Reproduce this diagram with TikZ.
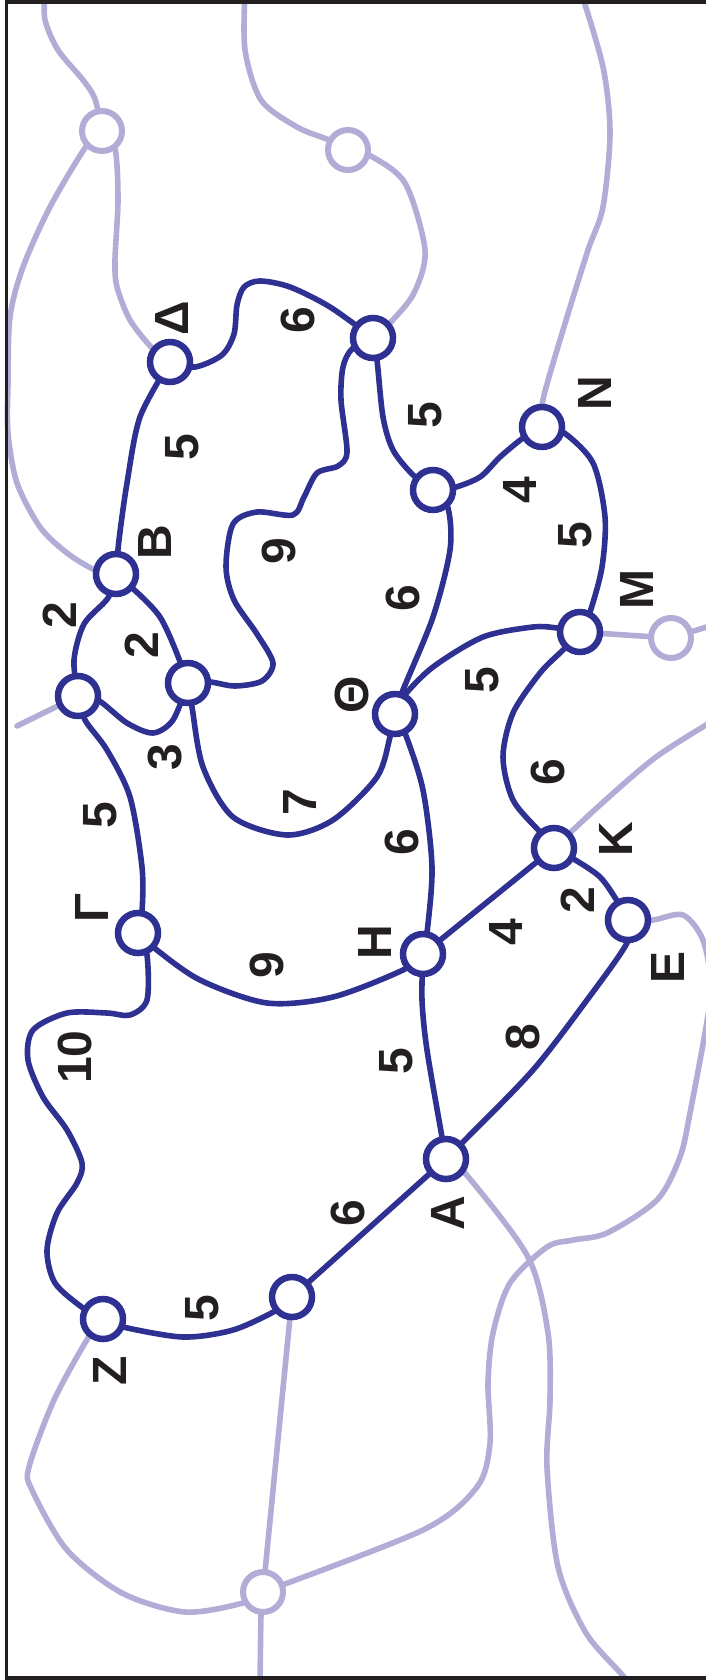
\documentclass[tikz,border=0pt]{standalone}
\usepackage{fontspec}
\setmainfont{Liberation Sans}
\usetikzlibrary{backgrounds}
\definecolor{navy}{HTML}{2E3192}
\definecolor{lav}{HTML}{B1ADD6}
\definecolor{ink}{HTML}{231F20}
\begin{document}
\begin{tikzpicture}[x=1pt,y=-1pt,
 vtx/.style={circle,draw=navy,fill=white,line width=6.5pt,minimum size=40pt,inner sep=0pt},
 lvtx/.style={circle,draw=lav,fill=white,line width=6pt,minimum size=40pt,inner sep=0pt},
 edge/.style={draw=navy,line width=5.6pt,line cap=round,line join=round},
 ledge/.style={draw=lav,line width=5.6pt,line cap=round,line join=round},
 lbl/.style={text=ink,font=\fontsize{48}{48}\selectfont\bfseries,rotate=90,inner sep=0pt},
 frame/.style={draw=ink,line width=3.8pt}]
\useasboundingbox (0,0) rectangle (706,1680);
\clip (0,0) rectangle (706,1680);
% vertices
\node[vtx] (D) at (170,362) {};
\node[vtx] (P) at (373,338) {};
\node[vtx] (B) at (116,574) {};
\node[vtx] (Y) at (78,696) {};
\node[vtx] (X) at (188,683) {};
\node[vtx] (Q) at (433,490) {};
\node[vtx] (N) at (542,427) {};
\node[vtx] (M) at (580,632) {};
\node[vtx] (T) at (395,714) {};
\node[vtx] (K) at (554,848) {};
\node[vtx] (E) at (628,920) {};
\node[vtx] (G) at (138,933) {};
\node[vtx] (H) at (423,954) {};
\node[vtx] (A) at (446,1159) {};
\node[vtx] (R) at (292,1297) {};
\node[vtx] (Z) at (103,1319) {};
\node[lvtx] (T1) at (102,131) {};
\node[lvtx] (T2) at (348,150) {};
\node[lvtx] (L1) at (671,638) {};
\node[lvtx] (S) at (263,1592) {};
\coordinate (c1) at (45,-8);
\coordinate (c2) at (245,-8);
\coordinate (c3) at (581,-8);
\coordinate (c4) at (716,624);
\coordinate (c5) at (17,726);
\coordinate (c6) at (716,719);
\coordinate (c7) at (630,1690);
\coordinate (c8) at (260,1690);
\begin{pgfonlayer}{background}
% light lines
\draw[ledge] plot[smooth] coordinates {(c1) (45,20) (58,50) (83,80) (95,99) (T1.center)};
\draw[ledge] plot[smooth] coordinates {(T1.center) (85,148) (50,207) (23,267) (10,317) (8,383) (8,433) (17,483) (40,527) (67,553) (95,570) (B.center)};
\draw[ledge] plot[smooth] coordinates {(T1.center) (115,148) (118,200) (115,260) (117,287) (130,320) (152,348) (D.center)};
\draw[ledge] plot[smooth] coordinates {(c2) (245,50) (261,100) (297,127) (329,140) (T2.center)};
\draw[ledge] plot[smooth] coordinates {(T2.center) (369,155) (405,183) (425,250) (414,293) (390,323) (P.center)};
\draw[ledge] plot[smooth] coordinates {(c3) (603,67) (610,133) (603,207) (588,250) (567,317) (549,377) (542,405) (N.center)};
\draw[ledge] (M.center) -- (L1.center);
\draw[ledge] plot[smooth] coordinates {(L1.center) (697,630) (c4)};
\draw[ledge] (Y.center) -- (c5);
\draw[ledge] plot[smooth] coordinates {(K.center) (600,805) (656,757) (c6)};
\draw[ledge] plot[smooth] coordinates {(E.center) (653,920) (683,915) (703,940) (711,985) (706,1027) (690,1113) (680,1157) (657,1200) (607,1233) (573,1240) (547,1247) (510,1283) (493,1333) (488,1383) (490,1443) (477,1487) (423,1530) (S.center)};
\draw[ledge] plot[smooth] coordinates {(A.center) (465,1173) (528,1257) (548,1333) (550,1400) (547,1467) (558,1567) (586,1633) (624,1677) (c7)};
\draw[ledge] (R.center) -- (S.center);
\draw[ledge] plot[smooth] coordinates {(S.center) (261,1615) (c8)};
\draw[ledge] plot[smooth] coordinates {(Z.center) (88,1338) (54,1400) (29,1467) (32,1490) (67,1550) (122,1593) (185,1612) (243,1603) (S.center)};
% main edges
\draw[edge] plot[smooth] coordinates {(D.center) (195,367) (222,355) (234,334) (237,305) (244,287) (260,281) (290,287) (330,307) (P.center)};
\draw[edge] plot[smooth] coordinates {(D.center) (140,417) (127,483) (119,540) (B.center)};
\draw[edge] plot[smooth] coordinates {(B.center) (108,598) (84,624) (74,660) (Y.center)};
\draw[edge] plot[smooth] coordinates {(B.center) (160,617) (X.center)};
\draw[edge] plot[smooth] coordinates {(X.center) (210,682) (235,686) (262,681) (273,663) (257,634) (234,600) (226,567) (233,524) (257,512) (293,515) (304,497) (317,473) (338,466) (347,452) (341,400) (343,367) (352,349) (P.center)};
\draw[edge] plot[smooth] coordinates {(Y.center) (98,700) (127,723) (153,733) (173,720) (X.center)};
\draw[edge] plot[smooth] coordinates {(Y.center) (85,720) (107,750) (130,797) (142,867) (142,912) (G.center)};
\draw[edge] plot[smooth] coordinates {(X.center) (192,707) (203,767) (233,817) (287,835) (333,820) (377,777) (390,737) (T.center)};
\draw[edge] plot[smooth] coordinates {(T.center) (405,733) (423,790) (432,867) (427,933) (H.center)};
\draw[edge] plot[smooth] coordinates {(G.center) (153,947) (200,980) (267,1003) (333,997) (403,970) (H.center)};
\draw[edge] plot[smooth] coordinates {(G.center) (147,955) (147,1000) (130,1015) (107,1013) (67,1013) (33,1030) (28,1060) (43,1097) (67,1130) (82,1163) (77,1183) (57,1213) (47,1250) (55,1283) (83,1308) (Z.center)};
\draw[edge] plot[smooth] coordinates {(Z.center) (123,1327) (183,1337) (233,1330) (277,1310) (R.center)};
\draw[edge] (R.center) -- (A.center);
\draw[edge] plot[smooth] coordinates {(H.center) (422,1000) (427,1050) (442,1137) (A.center)};
\draw[edge] plot[smooth] coordinates {(A.center) (463,1142) (533,1070) (587,1000) (627,943) (E.center)};
\draw[edge] (H.center) -- (K.center);
\draw[edge] plot[smooth] coordinates {(K.center) (600,877) (E.center)};
\draw[edge] plot[smooth] coordinates {(K.center) (540,832) (513,800) (503,757) (513,713) (540,673) (563,650) (M.center)};
\draw[edge] plot[smooth] coordinates {(T.center) (403,697) (433,667) (483,637) (533,627) (557,628) (M.center)};
\draw[edge] plot[smooth] coordinates {(T.center) (403,690) (433,617) (450,550) (448,508) (Q.center)};
\draw[edge] plot[smooth] coordinates {(P.center) (377,360) (383,417) (393,450) (413,475) (Q.center)};
\draw[edge] plot[smooth] coordinates {(Q.center) (453,488) (480,477) (500,457) (523,438) (N.center)};
\draw[edge] plot[smooth] coordinates {(N.center) (563,432) (593,463) (605,517) (602,567) (590,612) (M.center)};
\end{pgfonlayer}
% frame
\draw[frame] (720,1.9) -- (6.4,1.9) -- (6.4,1678.1) -- (720,1678.1);
% vertex labels
\node[lbl] (lD) at (172,318) {Δ};
\node[lbl] (lB) at (155,542) {Β};
\node[lbl] (lG) at (92,908) {Γ};
\node[lbl] (lH) at (375,942) {Η};
\node[lbl] (lT) at (352,695) {Θ};
\node[lbl] (lN) at (595,393) {Ν};
\node[lbl] (lM) at (637,590) {Μ};
\node[lbl] (lK) at (616,839) {Κ};
\node[lbl] (lE) at (668,967) {Ε};
\node[lbl] (lA) at (448,1213) {Α};
\node[lbl] (lZ) at (110,1371) {Ζ};
% weights
\node[lbl] (w1) at (298,320) {6};
\node[lbl] (w2) at (182,447) {5};
\node[lbl] (w3) at (60,615) {2};
\node[lbl] (w4) at (142,645) {2};
\node[lbl] (w5) at (279,551) {9};
\node[lbl] (w6) at (165,757) {3};
\node[lbl] (w7) at (100,815) {5};
\node[lbl] (w8) at (300,802) {7};
\node[lbl] (w9) at (402,842) {6};
\node[lbl] (w10) at (267,965) {9};
\node[lbl] (w11) at (75,1057) {10};
\node[lbl] (w12) at (202,1308) {5};
\node[lbl] (w13) at (348,1213) {6};
\node[lbl] (w14) at (396,1061) {5};
\node[lbl] (w15) at (523,1037) {8};
\node[lbl] (w16) at (506,932) {4};
\node[lbl] (w17) at (578,900) {2};
\node[lbl] (w18) at (548,772) {6};
\node[lbl] (w19) at (482,680) {5};
\node[lbl] (w20) at (403,598) {6};
\node[lbl] (w21) at (425,415) {5};
\node[lbl] (w22) at (520,490) {4};
\node[lbl] (w23) at (575,535) {5};
\end{tikzpicture}
\end{document}
